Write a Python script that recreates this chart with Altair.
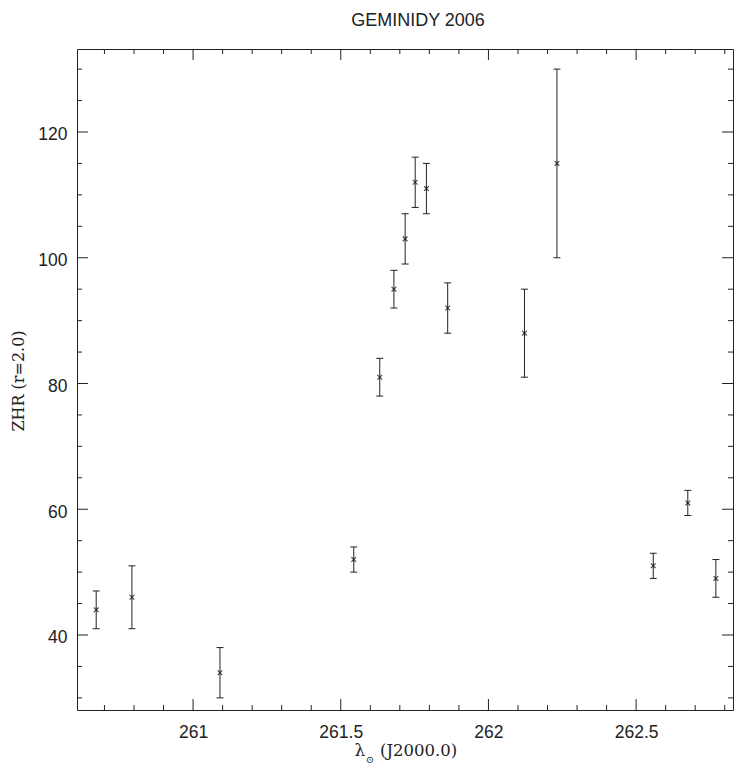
import altair as alt
import pandas as pd

# ---- data ----
sol_long = [260.672, 260.793, 261.091, 261.544, 261.632, 261.680, 261.718,
            261.752, 261.790, 261.862, 262.122, 262.232, 262.558, 262.675, 262.770]
zhr      = [44, 46, 34, 52, 81, 95, 103, 112, 111, 92, 88, 115, 51, 61, 49]
zhr_low  = [41, 41, 30, 50, 78, 92, 99, 108, 107, 88, 81, 100, 49, 59, 46]
zhr_high = [47, 51, 38, 54, 84, 98, 107, 116, 115, 96, 95, 130, 53, 63, 52]

x_major = [261, 261.5, 262, 262.5]
x_minor = [260.7, 260.8, 260.9, 261.1, 261.2, 261.3, 261.4, 261.6, 261.7,
           261.8, 261.9, 262.1, 262.2, 262.3, 262.4, 262.6, 262.7, 262.8]
y_major = [40, 60, 80, 100, 120]
y_minor = [30, 35, 45, 50, 55, 65, 70, 75, 85, 90, 95, 105, 110, 115, 125, 130]

X_DOMAIN = [260.607, 262.828]
Y_DOMAIN = [28.07, 133.2]
W, H = 656, 661
INK = "#222222"
LABEL_FONT = "Liberation Sans"
TITLE_FONT = "DejaVu Serif"

df = pd.DataFrame({"x": sol_long, "zhr": zhr, "lo": zhr_low, "hi": zhr_high})

xs = alt.Scale(domain=X_DOMAIN, nice=False, zero=False)
ys = alt.Scale(domain=Y_DOMAIN, nice=False, zero=False)

x_axis = alt.Axis(values=x_major, labelExpr="datum.value", ticks=False, domain=False,
                  grid=False, labelFont=LABEL_FONT, labelFontSize=17.5, labelColor=INK,
                  labelPadding=13, title=None)
y_axis = alt.Axis(values=y_major, format="d", ticks=False, domain=False, grid=False,
                  labelFont=LABEL_FONT, labelFontSize=17.5, labelColor=INK,
                  labelPadding=10, labelOffset=3, title=None)


def X(field):
    return alt.X(field, scale=xs, axis=x_axis)


def Y(field):
    return alt.Y(field, scale=ys, axis=y_axis)


base = alt.Chart(df)

bars = base.mark_rule(color=INK, strokeWidth=1).encode(
    x=X("x:Q"), y=Y("lo:Q"), y2="hi:Q")
cap_hi = base.mark_rule(color=INK, strokeWidth=1, xOffset=-3.5, x2Offset=3.5).encode(
    x=X("x:Q"), x2="x:Q", y=Y("hi:Q"))
cap_lo = base.mark_rule(color=INK, strokeWidth=1, xOffset=-3.5, x2Offset=3.5).encode(
    x=X("x:Q"), x2="x:Q", y=Y("lo:Q"))
points = base.mark_point(shape="M-1,-1L1,1M-1,1L1,-1", size=22, filled=False,
                         color="black", strokeWidth=1.2).encode(
    x=X("x:Q"), y=Y("zhr:Q"))


def xticks(vals, length):
    d = alt.Chart(pd.DataFrame({"v": vals}))
    bot = d.mark_rule(color=INK).encode(x=X("v:Q"), y=alt.value(H), y2=alt.value(H - length))
    top = d.mark_rule(color=INK).encode(x=X("v:Q"), y=alt.value(0), y2=alt.value(length))
    return [bot, top]


def yticks(vals, length):
    d = alt.Chart(pd.DataFrame({"v": vals}))
    left = d.mark_rule(color=INK).encode(y=Y("v:Q"), x=alt.value(0), x2=alt.value(length))
    right = d.mark_rule(color=INK).encode(y=Y("v:Q"), x=alt.value(W), x2=alt.value(W - length))
    return [left, right]


tick_layers = xticks(x_major, 11) + xticks(x_minor, 5) + yticks(y_major, 11) + yticks(y_minor, 5)

one = alt.Chart(pd.DataFrame({"t": [0]}))
y_title = one.mark_text(text="ZHR (r=2.0)", angle=270, font=TITLE_FONT, fontSize=16,
                        color=INK, align="center", baseline="middle").encode(
    x=alt.value(-58), y=alt.value(332))
x_lambda = one.mark_text(text="λ", font=TITLE_FONT, fontSize=17, color=INK,
                         align="center", baseline="alphabetic").encode(
    x=alt.value(283), y=alt.value(707))
x_sun = one.mark_text(text="⊙", font=TITLE_FONT, fontSize=10, color=INK,
                      align="center", baseline="alphabetic").encode(
    x=alt.value(293), y=alt.value(714))
x_rest = one.mark_text(text="(J2000.0)", font=TITLE_FONT, fontSize=16.5, color=INK,
                       align="left", baseline="alphabetic").encode(
    x=alt.value(303), y=alt.value(707))

chart = alt.layer(bars, cap_hi, cap_lo, points, *tick_layers,
                  y_title, x_lambda, x_sun, x_rest).properties(
    width=W, height=H,
    title=alt.TitleParams("GEMINIDY 2006", font=LABEL_FONT, fontSize=18,
                          fontWeight="normal", color=INK, anchor="middle",
                          offset=19, dx=13),
    autosize=alt.AutoSizeParams(type="none"),
    padding={"left": 77, "top": 49, "right": 1, "bottom": 57},
).configure_view(stroke=INK, strokeWidth=1)

chart.save("out.html", embed_options={"renderer": "svg", "actions": False})
